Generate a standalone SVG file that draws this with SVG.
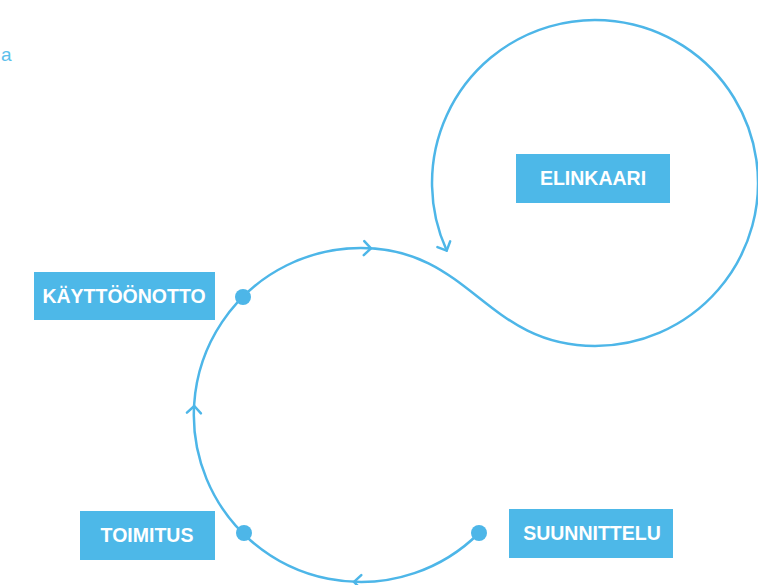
<svg xmlns="http://www.w3.org/2000/svg" xmlns:xlink="http://www.w3.org/1999/xlink" width="758" height="585" viewBox="0 0 758 585">
<style>
.line{fill:none;stroke:#4DB6E8;stroke-width:2.5;stroke-linecap:round;stroke-linejoin:round}
.box{fill:#4DB8E8}
.lbl{fill:#FFFFFF;font-family:"Liberation Sans",Arial,sans-serif;font-weight:bold;font-size:19.5px;text-anchor:middle}
.dot{fill:#4DB6E8}
.top{fill:#5BC0EB;font-family:"Liberation Sans",Arial,sans-serif;font-size:19px}
</style>
<defs>
<path id="chev" class="line" d="M-7,-7 L0,0 L-7,7"/>
</defs>
<rect width="758" height="585" fill="#FFFFFF"/>
<text class="top" x="1" y="61">a</text>
<g id="connectors">
<path class="line" d="M479,533 A167,167 0 1 1 361,248 C471,248 485,346 595,346 A163,163 0 1 0 446.7,250.6"/>
<use xlink:href="#chev" href="#chev" transform="translate(371,248.3) rotate(2)"/>
<use xlink:href="#chev" href="#chev" transform="translate(194.3,406) rotate(-87)"/>
<use xlink:href="#chev" href="#chev" transform="translate(354,581.8) rotate(182.4)"/>
<use xlink:href="#chev" href="#chev" transform="translate(446.7,250.6) rotate(65.5)"/>
</g>
<g id="node-kayttoonotto">
<rect class="box" x="34" y="272" width="181" height="48"/>
<text class="lbl" x="124" y="303">KÄYTTÖÖNOTTO</text>
<circle class="dot" cx="243" cy="297" r="8"/>
</g>
<g id="node-toimitus">
<rect class="box" x="80" y="511" width="135" height="49"/>
<text class="lbl" x="147" y="542">TOIMITUS</text>
<circle class="dot" cx="244" cy="533" r="8"/>
</g>
<g id="node-suunnittelu">
<rect class="box" x="509" y="509" width="164" height="49"/>
<text class="lbl" x="592" y="540">SUUNNITTELU</text>
<circle class="dot" cx="479" cy="533" r="8"/>
</g>
<g id="node-elinkaari">
<rect class="box" x="516" y="154" width="154" height="49"/>
<text class="lbl" x="593" y="185">ELINKAARI</text>
</g>
</svg>
